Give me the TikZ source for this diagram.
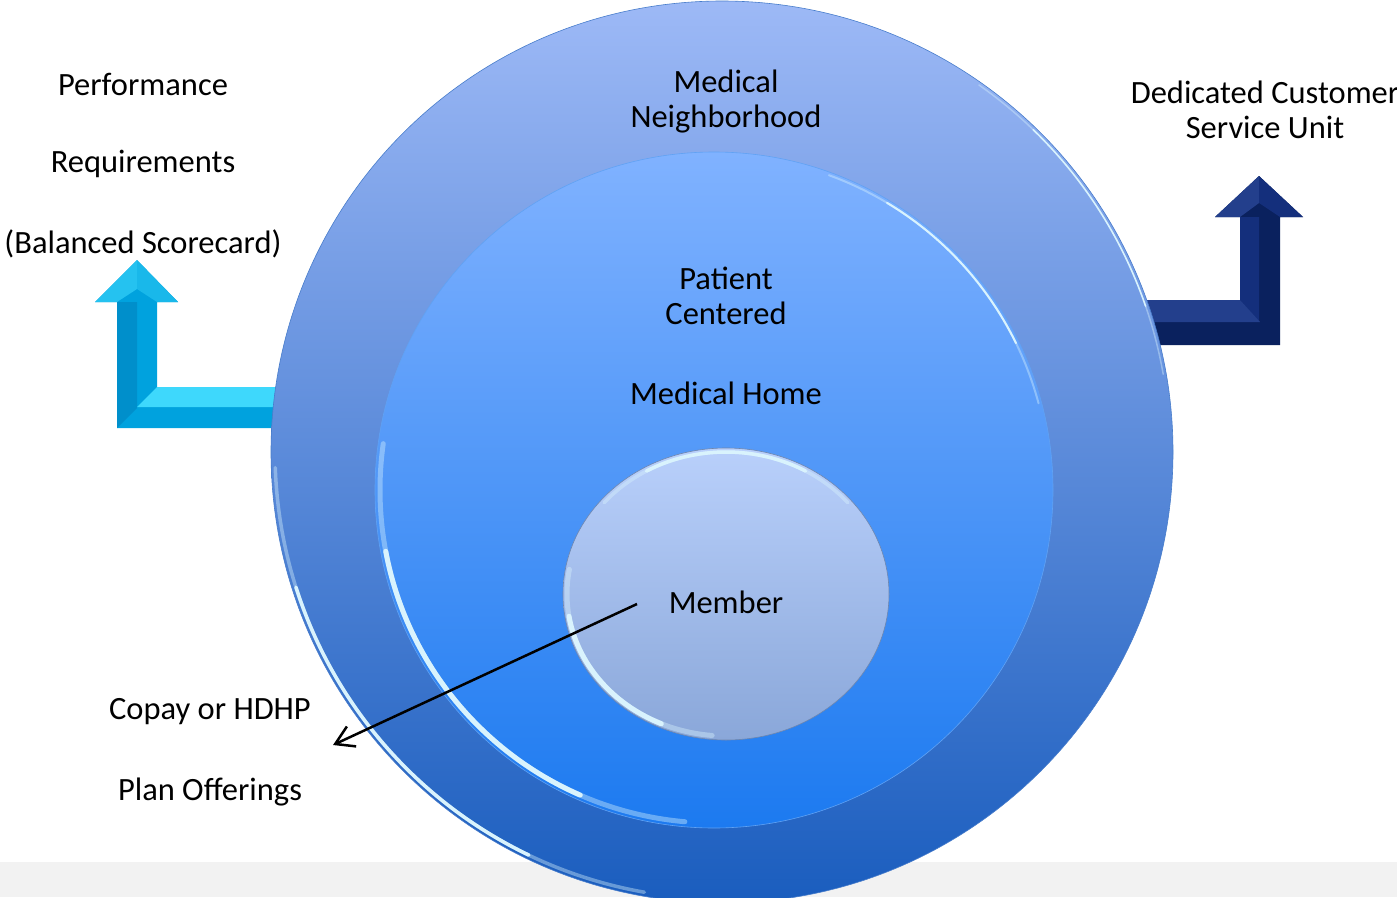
\documentclass[tikz,border=0pt]{standalone}
\usepackage{fontspec}
\setmainfont{Carlito}
\usetikzlibrary{shapes.geometric,arrows.meta}

\definecolor{outerTop}{HTML}{9DB9F6}
\definecolor{outerBot}{HTML}{1A5DBE}
\definecolor{midTop}{HTML}{80B2FF}
\definecolor{midBot}{HTML}{1C7AF0}
\definecolor{innTop}{HTML}{B9D0FB}
\definecolor{innBot}{HTML}{8AA7D9}
\definecolor{cyanMain}{HTML}{00A2DE}
\definecolor{cyanDark}{HTML}{008FCB}
\definecolor{cyanLight}{HTML}{3ED8FC}
\definecolor{navyMain}{HTML}{0A215E}
\definecolor{navyLight}{HTML}{233F8C}
\definecolor{navyMid}{HTML}{142F7C}
\definecolor{stripGray}{HTML}{F2F2F2}

\tikzset{
  label/.style={font=\fontsize{32.5}{35}\selectfont, align=center, inner sep=0pt, text=black},
  disc/.style={ellipse, inner sep=0pt, draw=#1, line width=0.6pt},
  rim/.style={line width=#1, color=white!85!cyan, line cap=round},
  pointer/.style={line width=2.5pt, -{Straight Barb[length=18pt,width=22pt,line width=2.5pt]}}
}
% a soft highlight arc: fades towards both ends
\newcommand{\softrim}[6]{% center, start, end, rx, ry, width
  \draw[rim=#6, opacity=0.4] (#1) ++(#2:#4 and #5) arc[start angle=#2, end angle=#3, x radius=#4, y radius=#5];
  \pgfmathsetmacro{\rimA}{#2+0.2*(#3-#2)}
  \pgfmathsetmacro{\rimB}{#3-0.2*(#3-#2)}
  \draw[rim=#6, opacity=1] (#1) ++(\rimA:#4 and #5) arc[start angle=\rimA, end angle=\rimB, x radius=#4, y radius=#5];
}

\begin{document}
\begin{tikzpicture}[x=1pt,y=-1pt]
\useasboundingbox (0,0) rectangle (1397,897);
\fill[white] (0,0) rectangle (1397,897);

% light band along the bottom
\fill[stripGray] (0,862) rectangle (1397,897);

% left bent arrow (cyan)
\fill[cyanMain] (95,302) -- (137,260) -- (178,302) -- (157,302) -- (157,387)
  -- (285,387) -- (285,428) -- (117,428) -- (117,302) -- cycle;
\fill[cyanDark] (117,302) -- (137,302) -- (137,408) -- (117,428) -- cycle;
\fill[cyanLight] (157,387) -- (285,387) -- (285,407) -- (137,407) -- cycle;
\fill[cyanLight!60!cyanMain] (95,302) -- (137,260) -- (137,289) -- (117,302) -- cycle;
\fill[cyanLight!40!cyanMain] (137,260) -- (178,302) -- (157,302) -- (137,289) -- cycle;

% right bent arrow (navy)
\fill[navyMain] (1215,217) -- (1259,176) -- (1303,217) -- (1280,217) -- (1280,345)
  -- (1140,345) -- (1140,300) -- (1240,300) -- (1240,217) -- cycle;
\fill[navyMid] (1240,217) -- (1259,217) -- (1259,322) -- (1240,300) -- cycle;
\fill[navyLight] (1140,300) -- (1240,300) -- (1260,322) -- (1140,322) -- cycle;
\fill[navyLight] (1215,217) -- (1259,176) -- (1259,203) -- (1240,217) -- cycle;
\fill[navyMid] (1259,176) -- (1303,217) -- (1280,217) -- (1259,203) -- cycle;

% concentric discs
\node[disc=outerBot!80!white, minimum width=902pt, minimum height=902pt,
      top color=outerTop, bottom color=outerBot] (outer) at (722,452) {};
\softrim{outer.center}{100}{178}{447}{447}{3.5pt}
\softrim{outer.center}{-55}{-10}{448}{448}{1.5pt}

\node[disc=midBot!70!white, minimum width=678pt, minimum height=676pt,
      top color=midTop, bottom color=midBot] (middle) at (714,490) {};
\softrim{middle.center}{95}{188}{334}{333}{5pt}
\softrim{middle.center}{-70}{-15}{336}{335}{2pt}

\node[disc=innBot!80!black, minimum width=326pt, minimum height=292pt,
      top color=innTop, bottom color=innBot] (inner) at (726,594) {};
\softrim{inner.center}{95}{190}{159}{142}{5pt}
\softrim{inner.center}{-140}{-40}{159}{142}{3.5pt}

% labels
\node[label] (perf) at (143,84) {Performance};
\node[label] (req) at (143,164) {Requirements};
\node[label] (bsc) at (143,244) {(Balanced Scorecard)};
\node[label] (neigh) at (726,102) {Medical\\Neighborhood};
\node[label] (dcsu) at (1265,110) {Dedicated Customer\\Service Unit};
\node[label] (pcent) at (726,296) {Patient\\Centered};
\node[label] (home) at (726,393) {Medical Home};
\node[label] (member) at (726,602) {Member};
\node[label] (copay) at (210,712) {Copay or HDHP};
\node[label] (plan) at (210,792) {Plan Offerings};

% pointer from the member out to the plan offerings
\coordinate (ptrStart) at (637,604);
\coordinate (ptrEnd) at (333,745);
\draw[pointer] (ptrStart) -- (ptrEnd);
\end{tikzpicture}
\end{document}
